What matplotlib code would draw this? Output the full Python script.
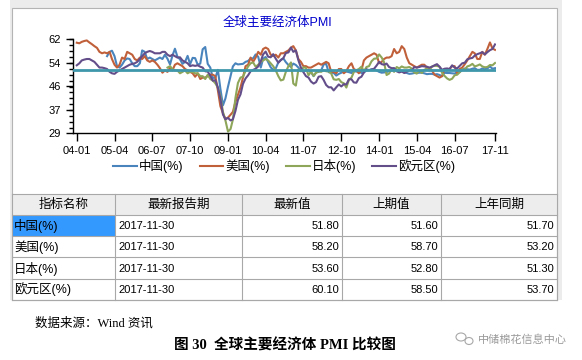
import matplotlib
matplotlib.use("Agg")
import matplotlib.pyplot as plt
import matplotlib.dates as mdates
from matplotlib.patches import Rectangle, Ellipse
from matplotlib.ticker import FixedLocator, MultipleLocator
import pandas as pd

plt.rcParams['font.family'] = ['Liberation Sans', 'Noto Sans CJK SC']

# monthly PMI values
us = [60.7, 60.5, 61.0, 61.3, 61.5, 60.8, 60.2, 59.5, 58.9, 57.5, 57.0, 57.3,
      57.0, 57.5, 55.0, 53.0, 52.0, 53.0, 55.5, 55.0, 57.5, 57.0, 56.5, 55.0,
      54.5, 55.5, 55.0, 56.0, 54.5, 54.0, 54.5, 54.0, 53.0, 51.8, 50.2, 51.0,
      50.5, 52.0, 51.0, 53.0, 53.5, 53.0, 52.5, 51.5, 51.0, 50.5, 50.0, 48.8,
      50.0, 48.0, 48.5, 48.5, 49.0, 49.5, 49.5, 49.0, 44.0, 38.5, 36.0, 34.0,
      34.5, 35.5, 36.5, 40.0, 42.5, 45.0, 48.5, 52.5, 53.0, 55.5, 54.0, 55.5,
      57.5, 56.5, 58.5, 59.0, 58.5, 56.5, 56.0, 56.5, 55.5, 57.0, 57.0, 57.5,
      58.0, 59.0, 59.5, 58.0, 55.0, 54.0, 52.5, 52.5, 52.0, 52.0, 52.5, 53.0,
      53.5, 53.0, 53.5, 54.0, 53.5, 50.5, 50.5, 50.0, 51.5, 51.5, 50.0, 50.8,
      52.5, 53.5, 51.5, 51.0, 50.0, 51.0, 54.5, 55.5, 56.0, 56.5, 57.0, 56.5,
      53.5, 54.0, 55.0, 55.5, 55.5, 56.0, 58.5, 57.0, 57.5, 59.5, 58.5, 55.5,
      53.5, 53.0, 52.5, 52.0, 52.5, 53.0, 53.0, 52.0, 51.5, 51.0, 49.5, 49.0,
      48.5, 49.0, 51.5, 51.0, 51.5, 52.5, 52.5, 50.0, 51.5, 52.0, 53.2, 54.5,
      56.0, 57.5, 57.0, 55.0, 55.0, 57.5, 56.5, 58.5, 60.8, 58.7, 58.2]

china = [56.0, 57.5, 57.9, 56.0, 52.5, 52.0, 53.0, 54.5, 55.2, 55.0, 53.5, 52.5,
         52.5, 53.5, 58.0, 57.5, 55.0, 55.5, 55.0, 54.5, 55.0, 55.5, 55.0, 56.5,
         55.1, 53.1, 56.1, 58.6, 55.8, 54.9, 53.3, 54.0, 56.1, 53.2, 55.4, 55.3,
         53.0, 53.4, 58.4, 59.2, 53.3, 52.0, 48.4, 48.4, 51.2, 44.6, 38.8, 41.2,
         45.3, 49.0, 52.4, 53.5, 53.1, 53.2, 53.3, 54.0, 54.3, 55.2, 55.2, 56.6,
         55.8, 52.0, 55.1, 55.7, 53.9, 52.1, 51.2, 51.7, 53.8, 54.7, 55.2, 53.9,
         52.9, 52.2, 53.4, 52.9, 52.0, 50.9, 50.7, 50.9, 51.2, 50.4, 49.0, 50.3,
         50.5, 51.0, 53.1, 53.3, 50.4, 50.2, 50.1, 49.2, 49.8, 50.2, 50.6, 50.6,
         50.4, 50.1, 50.9, 50.6, 50.8, 50.1, 50.3, 51.0, 51.1, 51.4, 51.4, 51.0,
         50.5, 50.2, 50.3, 50.4, 50.8, 51.0, 51.7, 51.1, 51.1, 50.8, 50.3, 50.1,
         49.8, 49.9, 50.1, 50.1, 50.2, 50.2, 50.0, 49.7, 49.8, 49.8, 49.6, 49.7,
         49.4, 49.0, 50.2, 50.1, 50.1, 50.0, 49.9, 50.4, 50.4, 51.2, 51.7, 51.4,
         51.3, 51.6, 51.8, 51.2, 51.2, 51.7, 51.4, 51.7, 52.4, 51.6, 51.8]

japan = [52.0, 52.5, 51.5, 51.0, 51.0, 50.0, 50.5, 51.0, 50.0, 50.5, 50.5, 50.0,
         50.0, 49.0, 49.0, 48.0, 49.5, 48.0, 47.5, 46.5, 45.0, 42.0, 36.5, 33.5,
         29.6, 30.5, 33.8, 41.4, 46.6, 48.5, 48.8, 50.8, 52.4, 53.5, 53.8, 52.3,
         53.0, 54.0, 54.5, 55.0, 54.5, 53.5, 52.5, 51.0, 49.0, 47.5, 47.8, 50.5,
         52.5, 53.8, 46.4, 45.7, 51.3, 50.7, 52.1, 51.9, 49.3, 50.6, 49.1, 50.2,
         50.7, 50.5, 51.1, 50.7, 50.7, 49.9, 47.9, 47.7, 48.0, 46.9, 46.5, 45.0,
         47.7, 48.5, 50.4, 51.1, 51.5, 52.3, 50.7, 52.2, 52.5, 54.2, 55.1, 55.2,
         56.6, 55.5, 53.9, 49.4, 49.9, 51.5, 50.5, 52.2, 51.7, 52.4, 52.0, 52.0,
         52.2, 51.6, 50.3, 49.9, 50.9, 50.1, 51.2, 51.7, 51.0, 52.4, 52.6, 52.6,
         52.3, 50.1, 49.1, 48.2, 47.7, 48.1, 49.3, 49.5, 50.4, 51.4, 51.3, 52.4,
         52.7, 53.3, 52.4, 52.7, 53.1, 52.4, 52.1, 52.2, 52.9, 52.8, 53.6]

euro = [52.8, 53.5, 54.5, 54.8, 55.0, 55.0, 54.5, 54.0, 53.0, 52.0, 52.0, 51.8,
        51.5, 50.5, 50.0, 49.8, 50.5, 51.0, 51.5, 52.0, 52.5, 53.0, 53.3, 53.5,
        54.0, 55.0, 56.0, 57.0, 57.5, 57.8, 57.5, 57.0, 57.0, 57.0, 57.5, 57.5,
        56.5, 56.0, 56.5, 56.0, 55.5, 55.6, 54.5, 54.0, 53.5, 52.5, 52.8, 52.6,
        52.8, 52.3, 52.0, 50.7, 50.6, 49.2, 47.4, 47.6, 45.0, 41.1, 35.6, 33.9,
        34.4, 33.5, 33.9, 36.8, 40.7, 42.6, 46.3, 48.2, 49.3, 50.7, 51.2, 51.6,
        52.4, 54.2, 56.6, 57.6, 55.8, 55.6, 56.7, 55.1, 53.7, 54.6, 55.3, 57.1,
        57.3, 59.0, 57.5, 58.0, 54.6, 52.0, 50.4, 49.0, 48.5, 47.1, 46.4, 46.9,
        48.8, 49.0, 47.7, 45.9, 45.1, 45.1, 44.0, 45.1, 46.1, 45.4, 46.2, 46.1,
        47.9, 47.9, 46.8, 46.7, 48.3, 48.8, 50.3, 51.4, 51.1, 51.3, 51.6, 52.7,
        54.0, 53.2, 53.0, 53.4, 52.2, 51.8, 51.8, 50.7, 50.3, 50.6, 50.1, 50.6,
        51.0, 51.0, 52.2, 52.0, 52.2, 52.5, 52.4, 52.3, 52.0, 52.3, 52.8, 53.2,
        52.3, 51.2, 51.6, 51.7, 51.5, 52.8, 52.0, 51.7, 52.6, 53.5, 53.7, 54.9,
        55.2, 55.4, 56.2, 56.7, 57.0, 57.4, 56.6, 57.4, 58.1, 58.5, 60.1]

ref_level = 51.3

series_names = ['中国(%)', '美国(%)', '日本(%)', '欧元区(%)']
series_starts = ['2005-01-01', '2004-01-01', '2007-01-01', '2004-01-01']
series_vals = [china, us, japan, euro]
colors = ['#4a84bd', '#c0603a', '#8ea659', '#634e8a']

tick_labels = ['04-01', '05-04', '06-07', '07-10', '09-01', '10-04',
               '11-07', '12-10', '14-01', '15-04', '16-07', '17-11']

headers = ['指标名称', '最新报告期', '最新值', '上期值', '上年同期']
report_dates = ['2017-11-30', '2017-11-30', '2017-11-30', '2017-11-30']
latest = [51.80, 58.20, 53.60, 60.10]
previous = [51.60, 58.70, 52.80, 58.50]
year_ago = [51.70, 53.20, 51.30, 53.70]

W, H = 582, 360
fig = plt.figure(figsize=(W / 100, H / 100), dpi=100)

# background layer in pixel coordinates
bg = fig.add_axes([0, 0, 1, 1], zorder=0)
bg.set_xlim(0, W)
bg.set_ylim(H, 0)
bg.axis('off')
bg.add_patch(Rectangle((10, 0), 552, 300, fc='#ececec', ec='none'))
bg.add_patch(Rectangle((12, 8), 545, 291.5, fc='white', ec='#b4b4b4', lw=0.8))

bg.text(277, 23, '全球主要经济体PMI', color='#0000cc', fontsize=9,
        ha='center', va='center')

# table
col_edges = [12, 115, 242, 342, 441, 557]
row_edges = [194, 215, 236.2, 257.4, 278.6, 299.5]
bg.add_patch(Rectangle((col_edges[0], row_edges[0]), col_edges[-1] - col_edges[0],
                       row_edges[1] - row_edges[0], fc='#ededed', ec='none'))
bg.add_patch(Rectangle((col_edges[0] + 1, row_edges[1] + 0.5), col_edges[1] - col_edges[0] - 1,
                       row_edges[2] - row_edges[1] - 1, fc='#3399ff', ec='none'))
for y in row_edges:
    bg.plot([col_edges[0], col_edges[-1]], [y, y], color='#a8a8a8', lw=0.8)
for x in col_edges:
    bg.plot([x, x], [row_edges[0], row_edges[-1]], color='#a8a8a8', lw=0.8)

for j, h in enumerate(headers):
    bg.text((col_edges[j] + col_edges[j + 1]) / 2, (row_edges[0] + row_edges[1]) / 2 + 0.5,
            h, fontsize=9, ha='center', va='center')

for i in range(len(series_names)):
    yc = (row_edges[i + 1] + row_edges[i + 2]) / 2 + 0.5
    bg.text(col_edges[0] + 2, yc, series_names[i], fontsize=9, ha='left', va='center')
    bg.text(col_edges[1] + 3, yc, report_dates[i], fontsize=8, ha='left', va='center')
    for j, vals in enumerate([latest, previous, year_ago]):
        bg.text(col_edges[j + 3] - 3, yc, f'{vals[i]:.2f}', fontsize=8,
                ha='right', va='center')

# source, caption and watermark
serif = ['Liberation Serif', 'Noto Sans CJK SC']
bg.text(35, 323, '数据来源：Wind 资讯', fontsize=9, family=serif, ha='left', va='center')
bg.text(285, 345, '图 30  全球主要经济体 PMI 比较图', fontsize=10.5, family=serif,
        fontweight='bold', ha='center', va='center')
bg.add_patch(Ellipse((461, 337), 10, 8, fc='none', ec='#a8a8a8', lw=0.8))
bg.add_patch(Ellipse((469, 341), 8, 7, fc='none', ec='#a8a8a8', lw=0.8))
bg.text(478, 340, '中储棉花信息中心', fontsize=8, color='#9a9a9a', ha='left', va='center')

# chart
ax = fig.add_axes([73.3 / W, 1 - 133.3 / H, (496 - 73.3) / W, (133.3 - 39) / H], zorder=1)
ax.set_facecolor('none')

handles = []
for name, start, vals, c in zip(series_names, series_starts, series_vals, colors):
    dates = pd.date_range(start, periods=len(vals), freq='MS')
    ln, = ax.plot(dates, vals, color=c, lw=1.5, label=name)
    handles.append(ln)

ax.axhline(ref_level, color='#3f97ab', lw=2.0, zorder=5)

ax.set_xlim(pd.Timestamp('2003-11-20'), pd.Timestamp('2017-11-13'))
ax.set_ylim(29, 62)

xt = pd.to_datetime(['20' + t + '-01' for t in tick_labels])
ax.set_xticks(xt)
ax.xaxis.set_major_formatter(mdates.DateFormatter('%y-%m'))

y_major = [29, 37.25, 45.5, 53.75, 62]
ax.yaxis.set_major_locator(FixedLocator(y_major))
ax.set_yticklabels([f'{v:.0f}' if v % 1 != 0.5 else f'{v + 0.5:.0f}' for v in y_major])
ax.yaxis.set_minor_locator(MultipleLocator(8.25 / 4))

for s in ['top', 'right']:
    ax.spines[s].set_visible(False)
for s in ['left', 'bottom']:
    ax.spines[s].set_linewidth(1.0)
ax.tick_params(axis='x', length=6, width=1, pad=3, labelsize=8)
ax.tick_params(axis='y', which='major', length=5, width=1, pad=4, labelsize=8)
ax.tick_params(axis='y', which='minor', length=3, width=1)

ax.legend(handles=handles, loc='center', bbox_to_anchor=(284 / W, 1 - 166 / H),
          bbox_transform=fig.transFigure, ncol=4, frameon=False, fontsize=9,
          handlelength=1.9, handletextpad=0.15, columnspacing=1.3)

fig.savefig('out.png', dpi=100)
